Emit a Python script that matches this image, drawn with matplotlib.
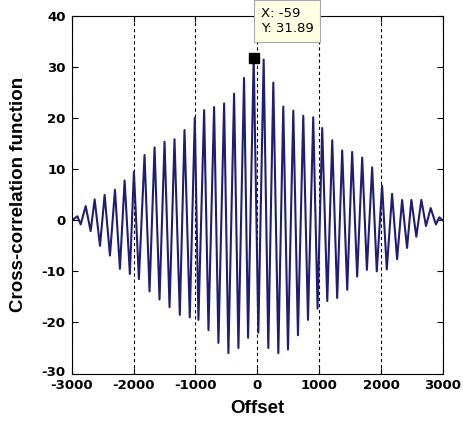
import matplotlib
matplotlib.use("Agg")
import matplotlib.pyplot as plt
import matplotlib.transforms as mtransforms

# Extrema of the cross-correlation curve (offset, value)
offsets = [-2995, -2908, -2855, -2774, -2694, -2629, -2543, -2468, -2382, -2301,
           -2221, -2145, -2060, -1995, -1914, -1823, -1742, -1661, -1581, -1500,
           -1419, -1339, -1253, -1177, -1092, -1011, -952, -860, -790, -699,
           -629, -537, -468, -376, -306, -215, -150, -59, 16, 102,
           177, 258, 339, 419, 495, 581, 656, 742, 818, 903,
           973, 1048, 1130, 1210, 1290, 1371, 1452, 1532, 1613, 1694,
           1770, 1855, 1930, 2016, 2092, 2177, 2258, 2339, 2419, 2489,
           2569, 2650, 2725, 2801, 2885, 2940, 2995]
values = [0.0, 0.8, -0.8, 2.8, -2.1, 4.1, -5.0, 5.0, -6.9, 6.0,
          -9.5, 7.8, -10.5, 9.5, -11.5, 12.8, -13.9, 14.3, -15.5, 15.4,
          -17.0, 15.9, -18.5, 17.7, -19.0, 20.1, -19.5, 21.6, -21.5, 22.2,
          -24.0, 22.9, -26.0, 24.8, -25.0, 27.9, -23.0, 31.89, -22.0, 31.5,
          -25.0, 27.0, -26.0, 22.3, -25.3, 21.5, -22.5, 20.5, -19.5, 20.2,
          -17.3, 18.1, -15.8, 15.7, -15.2, 13.7, -13.6, 13.4, -11.0, 12.3,
          -9.7, 10.4, -10.0, 6.8, -9.6, 5.2, -7.6, 4.0, -5.4, 4.0,
          -3.2, 4.0, -1.1, 2.4, -0.8, 0.6, 0.0]

peak_x = -59
peak_y = 31.89

xticks = [-3000, -2000, -1000, 0, 1000, 2000, 3000]
yticks = [-30, -20, -10, 0, 10, 20, 30, 40]

plt.rcParams['axes.unicode_minus'] = False

fig = plt.figure(figsize=(4.63, 4.22), dpi=100)
ax = fig.add_axes([71.7 / 463, 1 - 373.5 / 422, (443 - 71.7) / 463, (373.5 - 16.2) / 422])

ax.plot(offsets, values, color='#1e1e72', linewidth=1.5)
ax.plot([peak_x], [peak_y], marker='s', color='black', markersize=7, linestyle='none',
        clip_on=False)

ax.set_xlim(-3000, 3000)
ax.set_ylim(-30, 40)
ax.set_xticks(xticks)
ax.set_yticks(yticks)
ax.set_xticklabels([str(t) for t in xticks], fontfamily='DejaVu Sans', fontweight='bold', fontsize=9.5)
ax.set_yticklabels([str(t) for t in yticks], fontfamily='DejaVu Sans', fontweight='bold', fontsize=9.5)
ax.tick_params(direction='in', length=4, width=0.8, top=True, right=True, colors='black')
ax.tick_params(axis='x', pad=4.2)
ax.tick_params(axis='y', pad=4.5)
ax.xaxis.grid(True, linestyle=(0, (3, 2.5)), color='black', linewidth=0.8)
for s in ax.spines.values():
    s.set_linewidth(0.8)
    s.set_color('black')

# nudge the lowest y tick label up slightly, as in the reference
lbl = ax.get_yticklabels()[0]
lbl.set_transform(lbl.get_transform() + mtransforms.ScaledTranslation(0, 2.5 / 100, fig.dpi_scale_trans))

ax.set_xlabel('Offset', fontfamily='Liberation Sans', fontweight='bold', fontsize=13.5, labelpad=5.5)
ax.set_ylabel('Cross-correlation function', fontfamily='Liberation Sans', fontweight='bold',
              fontsize=13.5, labelpad=10)

fig.text(261 / 463, 1 - 7 / 422, 'X: -59\nY: 31.89', ha='left', va='top', fontsize=9.5,
         fontfamily='DejaVu Sans', linespacing=1.2,
         bbox=dict(boxstyle='square,pad=0.5', fc='#FFFFE4', ec='#A8A8A8', lw=0.8))

fig.savefig('out.png', dpi=100, facecolor='white')
